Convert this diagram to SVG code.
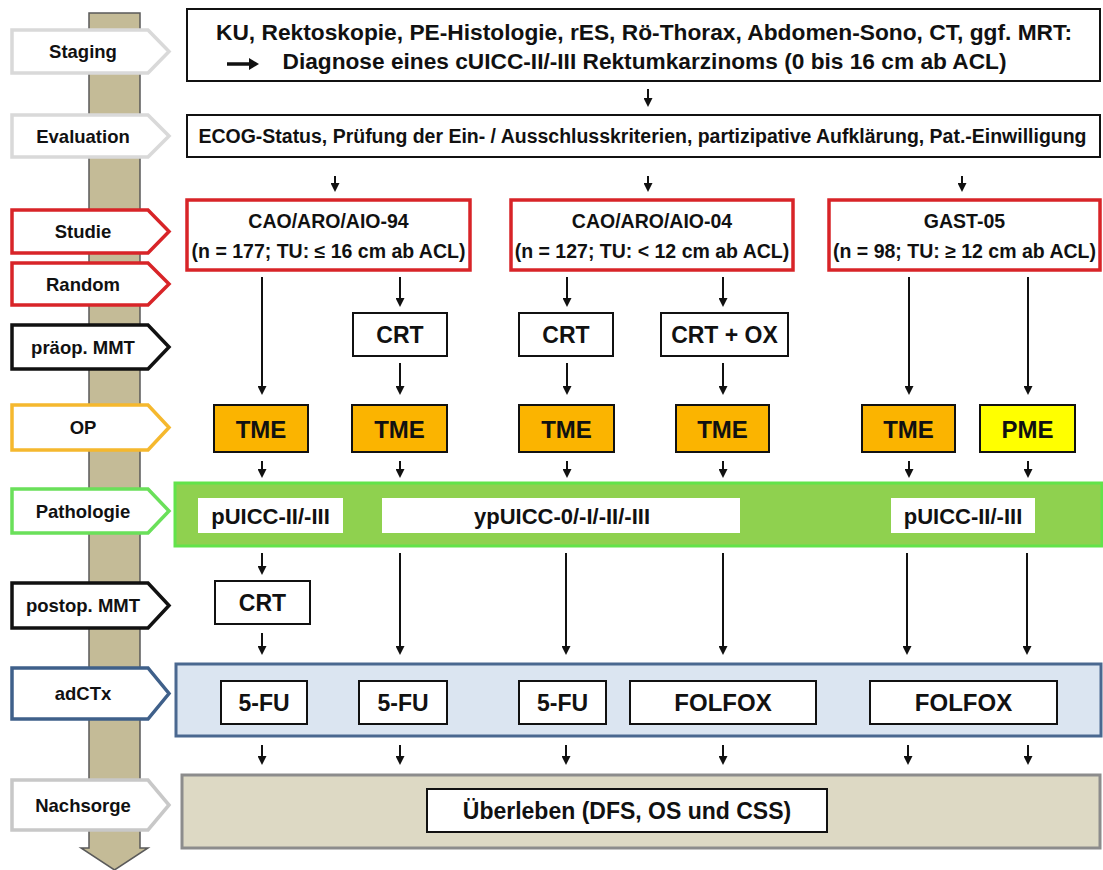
<svg xmlns="http://www.w3.org/2000/svg" width="1103" height="870" viewBox="0 0 1103 870">
<defs>
<style>
text{font-family:"Liberation Sans",Arial,sans-serif;font-weight:bold;fill:#111;text-anchor:middle}
.sp{fill:#fff;stroke-width:3.5;stroke-linejoin:miter}
.box{fill:#fff;stroke:#111;stroke-width:2}
.red{fill:#fff;stroke:#d82428;stroke-width:3.5}
.tme{fill:#fbb400;stroke:#111;stroke-width:2}
.pme{fill:#ffff00;stroke:#111;stroke-width:2}
.wb{fill:#fff;stroke:none}
.ar{stroke:#111;stroke-width:2;fill:none;marker-end:url(#ah)}
.l18{font-size:18.5px}
.s16{font-size:19.5px}
.b22{font-size:23px}
.fx{font-size:24px}
.pu{font-size:22px}
</style>
<marker id="ah" viewBox="0 0 9 9" refX="5" refY="4.5" markerWidth="9" markerHeight="9" orient="auto" markerUnits="userSpaceOnUse"><path d="M0,0 L9,4.5 L0,9 z" fill="#111"/></marker>
<marker id="ah2" viewBox="0 0 10 12" refX="5" refY="6" markerWidth="10" markerHeight="12" orient="auto" markerUnits="userSpaceOnUse"><path d="M0,0 L10,6 L0,12 z" fill="#111"/></marker>
</defs>
<rect width="1103" height="870" fill="#fff"/>

<g id="timeline">
<path d="M89,13 H140 V848 H148 L114.5,870 L81,848 H89 Z" fill="#c4bb97" stroke="#5a5a5a" stroke-width="1.5"/>
</g>

<g id="label-staging"><path class="sp" stroke="#d9d9d9" d="M12,30 H148 L169,51.5 L148,73 H12 Z"/><text class="l18" x="83" y="58">Staging</text></g>
<g id="label-evaluation"><path class="sp" stroke="#d9d9d9" d="M12,115 H148 L169,136 L148,157 H12 Z"/><text class="l18" x="83" y="142.5">Evaluation</text></g>
<g id="label-studie"><path class="sp" stroke="#d82428" d="M12,210 H148 L169,231.5 L148,253 H12 Z"/><text class="l18" x="83" y="238">Studie</text></g>
<g id="label-random"><path class="sp" stroke="#d82428" d="M12,263 H148 L169,284 L148,305 H12 Z"/><text class="l18" x="83" y="291">Random</text></g>
<g id="label-praeop"><path class="sp" stroke="#111" d="M12,325 H148 L169,347 L148,369 H12 Z"/><text class="l18" x="83" y="353.5">präop. MMT</text></g>
<g id="label-op"><path class="sp" stroke="#f5b82e" d="M12,405 H148 L169,427.5 L148,450 H12 Z"/><text class="l18" x="83" y="434">OP</text></g>
<g id="label-pathologie"><path class="sp" stroke="#6ae05a" d="M12,489 H148 L169,511 L148,533 H12 Z"/><text class="l18" x="83" y="517.5">Pathologie</text></g>
<g id="label-postop"><path class="sp" stroke="#111" d="M12,583 H148 L169,605.5 L148,628 H12 Z"/><text class="l18" x="83" y="612">postop. MMT</text></g>
<g id="label-adctx"><path class="sp" stroke="#3f608a" d="M12,668 H148 L169,693.5 L148,719 H12 Z"/><text class="l18" x="83" y="700">adCTx</text></g>
<g id="label-nachsorge"><path class="sp" stroke="#c8c8c8" d="M12,780 H148 L169,805 L148,830 H12 Z"/><text class="l18" x="83" y="811.5">Nachsorge</text></g>

<g id="staging">
<rect class="box" x="187" y="9" width="913" height="72"/>
<text x="644" y="39.5" font-size="22.5" textLength="856" lengthAdjust="spacingAndGlyphs">KU, Rektoskopie, PE-Histologie, rES, Rö-Thorax, Abdomen-Sono, CT, ggf. MRT:</text>
<text x="644.5" y="69" font-size="22.5" textLength="724" lengthAdjust="spacingAndGlyphs">Diagnose eines cUICC-II/-III Rektumkarzinoms (0 bis 16 cm ab ACL)</text>
<line x1="227" y1="64" x2="254" y2="64" stroke="#111" stroke-width="3.5" marker-end="url(#ah2)"/>
</g>

<g id="evaluation">
<rect class="box" x="187" y="115" width="913" height="42"/>
<text x="642.5" y="143" font-size="19.5" textLength="888" lengthAdjust="spacingAndGlyphs">ECOG-Status, Prüfung der Ein- / Ausschlusskriterien, partizipative Aufklärung, Pat.-Einwilligung</text>
</g>

<g id="study-94"><rect class="red" x="187" y="200" width="283" height="70"/><text class="s16" x="328.5" y="228">CAO/ARO/AIO-94</text><text class="s16" x="328.5" y="258">(n = 177; TU: ≤ 16 cm ab ACL)</text></g>
<g id="study-04"><rect class="red" x="511" y="200" width="282" height="70"/><text class="s16" x="652" y="228">CAO/ARO/AIO-04</text><text class="s16" x="652" y="258">(n = 127; TU: &lt; 12 cm ab ACL)</text></g>
<g id="study-gast"><rect class="red" x="829" y="200" width="271" height="70"/><text class="s16" x="964.5" y="228">GAST-05</text><text class="s16" x="964.5" y="258">(n = 98; TU: ≥ 12 cm ab ACL)</text></g>

<g id="crt-1"><rect class="box" x="353" y="313" width="94" height="43"/><text class="b22" x="400" y="343">CRT</text></g>
<g id="crt-2"><rect class="box" x="519" y="313" width="94" height="43"/><text class="b22" x="566" y="343">CRT</text></g>
<g id="crt-ox"><rect class="box" x="661" y="313" width="127" height="43"/><text class="b22" x="724.5" y="343">CRT + OX</text></g>

<g id="tme-1"><rect class="tme" x="214" y="405" width="94" height="47"/><text class="fx" x="261" y="437.5">TME</text></g>
<g id="tme-2"><rect class="tme" x="352" y="405" width="95" height="47"/><text class="fx" x="399.5" y="437.5">TME</text></g>
<g id="tme-3"><rect class="tme" x="519" y="405" width="95" height="47"/><text class="fx" x="566.5" y="437.5">TME</text></g>
<g id="tme-4"><rect class="tme" x="676" y="405" width="93" height="47"/><text class="fx" x="722.5" y="437.5">TME</text></g>
<g id="tme-5"><rect class="tme" x="862" y="405" width="93" height="47"/><text class="fx" x="908.5" y="437.5">TME</text></g>
<g id="pme"><rect class="pme" x="980" y="405" width="95" height="47"/><text class="fx" x="1027.5" y="437.5">PME</text></g>

<g id="pathologie">
<rect x="175" y="483" width="927" height="63" fill="#8fd14f" stroke="#62e34a" stroke-width="3"/>
<rect class="wb" x="198" y="498" width="145" height="35"/><text class="pu" x="270.5" y="524">pUICC-II/-III</text>
<rect class="wb" x="382" y="498" width="358" height="35"/><text class="pu" x="562" y="524">ypUICC-0/-I/-II/-III</text>
<rect class="wb" x="891" y="498" width="144" height="35"/><text class="pu" x="963" y="524">pUICC-II/-III</text>
</g>

<g id="crt-post"><rect class="box" x="215" y="581" width="95" height="43"/><text class="b22" x="262.5" y="611">CRT</text></g>

<g id="adctx">
<rect x="176" y="664" width="925" height="72" fill="#dbe5f1" stroke="#4a6890" stroke-width="3"/>
<rect class="box" x="221" y="681" width="86" height="43"/><text class="b22" x="264" y="711">5-FU</text>
<rect class="box" x="359" y="681" width="88" height="43"/><text class="b22" x="403" y="711">5-FU</text>
<rect class="box" x="519" y="681" width="87" height="43"/><text class="b22" x="562.5" y="711">5-FU</text>
<rect class="box" x="630" y="681" width="186" height="43"/><text class="fx" x="723" y="711">FOLFOX</text>
<rect class="box" x="870" y="681" width="187" height="43"/><text class="fx" x="963.5" y="711">FOLFOX</text>
</g>

<g id="nachsorge">
<rect x="182" y="775" width="918" height="73" fill="#ddd9c4" stroke="#8c8c8c" stroke-width="3"/>
<rect class="box" x="427" y="789" width="400" height="43"/>
<text class="b22" x="627" y="819">Überleben (DFS, OS und CSS)</text>
</g>

<g id="connectors">
<line class="ar" x1="648" y1="89" x2="648" y2="103"/>
<line class="ar" x1="335" y1="176" x2="335" y2="188"/>
<line class="ar" x1="648" y1="176" x2="648" y2="188"/>
<line class="ar" x1="962" y1="176" x2="962" y2="188"/>

<line class="ar" x1="262" y1="277" x2="262" y2="391"/>
<line class="ar" x1="400" y1="277" x2="400" y2="303"/>
<line class="ar" x1="567" y1="277" x2="567" y2="303"/>
<line class="ar" x1="723" y1="277" x2="723" y2="303"/>
<line class="ar" x1="909" y1="277" x2="909" y2="391"/>
<line class="ar" x1="1028" y1="277" x2="1028" y2="391"/>
<line class="ar" x1="400" y1="363" x2="400" y2="391"/>
<line class="ar" x1="567" y1="363" x2="567" y2="391"/>
<line class="ar" x1="723" y1="363" x2="723" y2="391"/>

<line class="ar" x1="262" y1="461" x2="262" y2="474"/>
<line class="ar" x1="400" y1="461" x2="400" y2="474"/>
<line class="ar" x1="567" y1="461" x2="567" y2="474"/>
<line class="ar" x1="723" y1="461" x2="723" y2="474"/>
<line class="ar" x1="909" y1="461" x2="909" y2="474"/>
<line class="ar" x1="1028" y1="461" x2="1028" y2="474"/>

<line class="ar" x1="262" y1="553" x2="262" y2="571"/>
<line class="ar" x1="262" y1="633" x2="262" y2="651"/>
<line class="ar" x1="400" y1="553" x2="400" y2="651"/>
<line class="ar" x1="566" y1="553" x2="566" y2="651"/>
<line class="ar" x1="723" y1="553" x2="723" y2="651"/>
<line class="ar" x1="907" y1="553" x2="907" y2="651"/>
<line class="ar" x1="1027" y1="553" x2="1027" y2="651"/>

<line class="ar" x1="262" y1="745" x2="262" y2="761"/>
<line class="ar" x1="400" y1="745" x2="400" y2="761"/>
<line class="ar" x1="566" y1="745" x2="566" y2="761"/>
<line class="ar" x1="723" y1="745" x2="723" y2="761"/>
<line class="ar" x1="908" y1="745" x2="908" y2="761"/>
<line class="ar" x1="1028" y1="745" x2="1028" y2="761"/>
</g>
</svg>
